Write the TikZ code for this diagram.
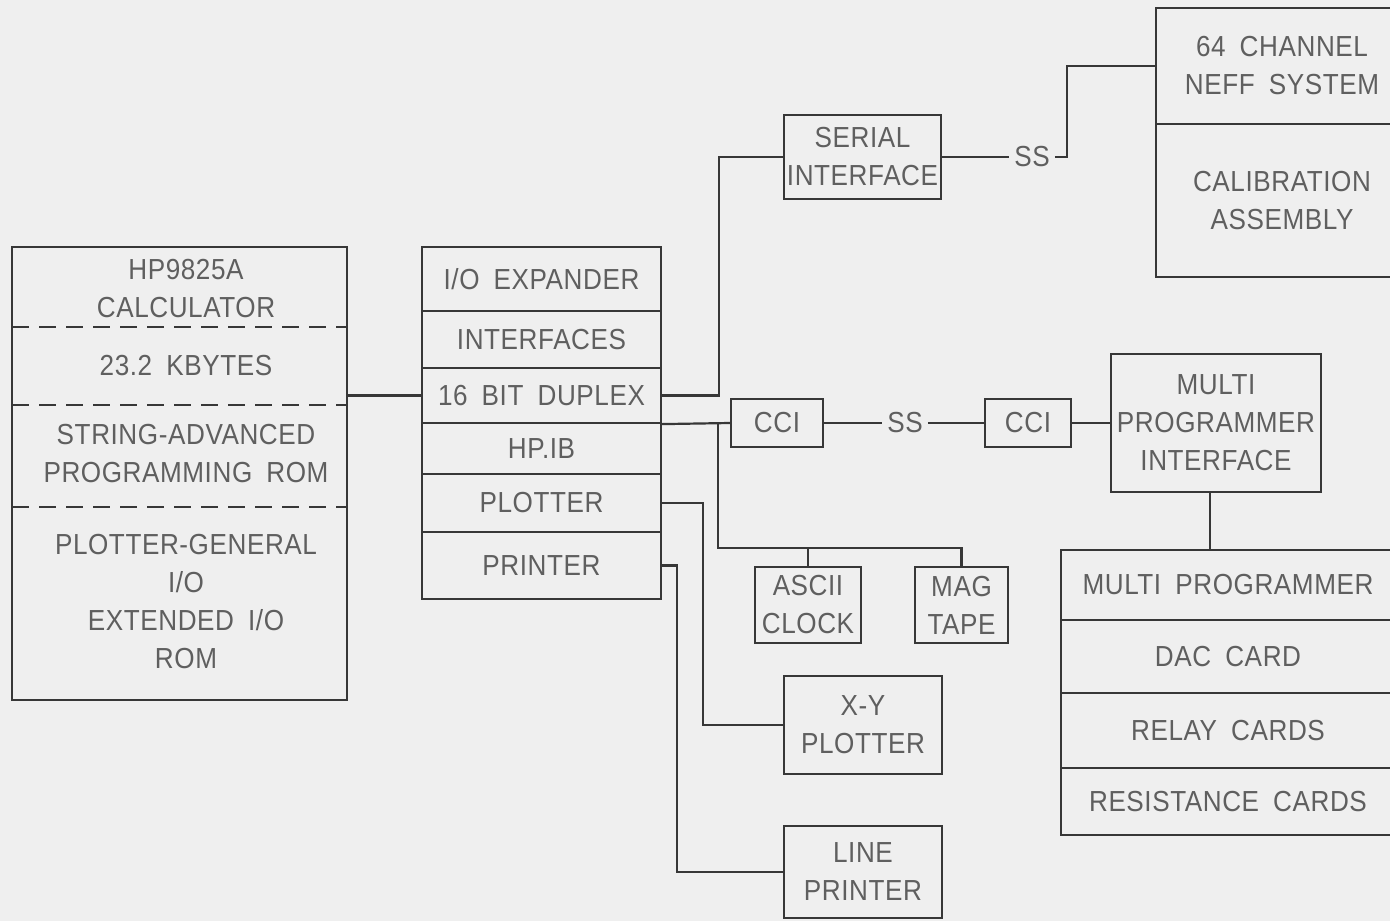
\documentclass[tikz,border=0pt]{standalone}
\usepackage{fontspec}
\newfontfamily\lblfont[FakeStretch=0.9,LetterSpace=2,WordSpace=1.8]{Liberation Sans}
\newcommand\lbl{\lblfont\fontsize{29}{38}\selectfont}
\definecolor{bgc}{RGB}{239,239,239}
\definecolor{linec}{RGB}{55,55,55}
\definecolor{textc}{RGB}{95,95,95}
\tikzset{
  box/.style={draw=linec, line width=2.2pt, rectangle, inner sep=0pt, align=center, text=textc, font=\lbl},
  txt/.style={inner sep=0pt, align=center, text=textc, font=\lbl},
  sslbl/.style={inner xsep=5pt, inner ysep=0pt, text=textc, font=\lbl},
  wire/.style={draw=linec, line width=2.2pt},
  dashline/.style={draw=linec, line width=2.2pt, dash pattern=on 17pt off 10pt},
}
\begin{document}
\begin{tikzpicture}[x=1pt,y=-1pt]
\fill[bgc] (0,0) rectangle (1390,921);
\useasboundingbox (0,0) rectangle (1390,921);
\clip (0,0) rectangle (1390,921);

% left calculator block
\node[box, minimum width=335pt, minimum height=453pt] (calc) at (179.5,473.5) {};
\node[txt] (c1) at (186,288.5) {HP9825A\\CALCULATOR};
\node[txt] (c2) at (186,366) {23.2 KBYTES};
\node[txt] (c3) at (186,454) {STRING-ADVANCED\\PROGRAMMING ROM};
\node[txt] (c4) at (186,601.5) {PLOTTER-GENERAL\\I/O\\EXTENDED I/O\\ROM};
\draw[dashline] (12,327) -- (347,327);
\draw[dashline] (12,405) -- (347,405);
\draw[dashline] (12,507) -- (347,507);

% I/O stack
\node[box, minimum width=239pt, minimum height=64pt] (ioexp) at (541.5,279) {I/O EXPANDER};
\node[box, minimum width=239pt, minimum height=57pt] (intf) at (541.5,339.5) {INTERFACES};
\node[box, minimum width=239pt, minimum height=55pt] (dup) at (541.5,395.5) {16 BIT DUPLEX};
\node[box, minimum width=239pt, minimum height=51pt] (hpib) at (541.5,448.5) {HP.IB};
\node[box, minimum width=239pt, minimum height=58pt] (plot) at (541.5,503) {PLOTTER};
\node[box, minimum width=239pt, minimum height=67pt] (prnt) at (541.5,565.5) {PRINTER};

% serial interface and NEFF system
\node[box, minimum width=157pt, minimum height=84pt] (serial) at (862.5,157) {SERIAL\\INTERFACE};
\node[sslbl] (ss1) at (1032,157) {SS};
\node[box, minimum width=252pt, minimum height=116pt] (neff) at (1282,66) {64 CHANNEL\\NEFF SYSTEM};
\node[box, minimum width=252pt, minimum height=153pt] (calib) at (1282,200.5) {CALIBRATION\\ASSEMBLY};

% CCI chain
\node[box, minimum width=92pt, minimum height=48pt] (cci1) at (777,423) {CCI};
\node[sslbl] (ss2) at (905,423) {SS};
\node[box, minimum width=86pt, minimum height=48pt] (cci2) at (1028,423) {CCI};
\node[box, minimum width=210pt, minimum height=138pt] (mpi) at (1216,423) {MULTI\\PROGRAMMER\\INTERFACE};

% multi programmer stack
\node[box, minimum width=334pt, minimum height=70pt] (mp) at (1228,585) {MULTI PROGRAMMER};
\node[box, minimum width=334pt, minimum height=73pt] (dac) at (1228,656.5) {DAC CARD};
\node[box, minimum width=334pt, minimum height=75pt] (relay) at (1228,730.5) {RELAY CARDS};
\node[box, minimum width=334pt, minimum height=67pt] (res) at (1228,801.5) {RESISTANCE CARDS};

% peripherals
\node[box, minimum width=106pt, minimum height=76pt] (ascii) at (808,605) {ASCII\\CLOCK};
\node[box, minimum width=93pt, minimum height=76pt] (mag) at (961.5,605) {MAG\\TAPE};
\node[box, minimum width=158pt, minimum height=98pt] (xy) at (863,725) {X-Y\\PLOTTER};
\node[box, minimum width=158pt, minimum height=92pt] (lp) at (863,872) {LINE\\PRINTER};

% connectors
\draw[wire] (calc.east |- dup.west) -- (dup.west);
\draw[wire] (dup.east) -- ++(57,0) |- (serial.west);
\draw[wire] (serial.east) -- (ss1.west);
\draw[wire] (ss1.east) -- ++(12,0) |- (neff.west);
\draw[wire] (dup.south east) -- (cci1.west);
\draw[wire] (cci1.east) -- (ss2.west);
\draw[wire] (ss2.east) -- (cci2.west);
\draw[wire] (cci2.east) -- (mpi.west);
\draw[wire] ([xshift=-6pt]mpi.south) -- ([xshift=-6pt]mpi.south |- mp.north);
\coordinate (bus) at (718,548);
\draw[wire] (dup.south east -| bus) -- (bus) -| (mag.north);
\draw[wire] (bus -| ascii.north) -- (ascii.north);
\draw[wire] (plot.east) -- ++(41,0) |- (xy.west);
\draw[wire] (prnt.east) -- ++(15,0) |- (lp.west);
\end{tikzpicture}
\end{document}
